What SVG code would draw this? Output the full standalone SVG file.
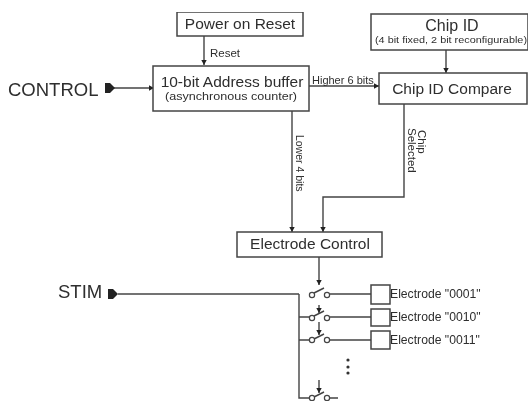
<svg xmlns="http://www.w3.org/2000/svg" width="529" height="401" viewBox="0 0 529 401">
<defs>
<marker id="arr" markerUnits="userSpaceOnUse" markerWidth="6" markerHeight="6" refX="5" refY="3" orient="auto"><path d="M0,0.3L5,3L0,5.7Z" fill="#222"/></marker>
<filter id="scan" x="0" y="0" width="100%" height="100%"><feGaussianBlur stdDeviation="0.45"/></filter>
</defs>
<style>
text{font-family:"Liberation Sans",Arial,sans-serif;fill:#2e2e2e}
.b{fill:#fff;stroke:#444;stroke-width:1.5}
.c{fill:none;stroke:#444;stroke-width:1.4}
.t{font-size:15.5px;text-anchor:middle}
.e{font-size:12.2px}
.o{fill:#fff;stroke:#444;stroke-width:1.2}
</style>
<rect width="529" height="401" fill="#fff"/>
<g filter="url(#scan)">
<g id="connectors">
<path class="c" d="M114,88H154" marker-end="url(#arr)"/>
<path class="c" d="M204,36V65" marker-end="url(#arr)"/>
<path class="c" d="M446,50V73" marker-end="url(#arr)"/>
<path class="c" d="M309,86H379" marker-end="url(#arr)"/>
<path class="c" d="M292,111V232" marker-end="url(#arr)"/>
<path class="c" d="M404,104V197H323V232" marker-end="url(#arr)"/>
<path class="c" d="M319,257V285" marker-end="url(#arr)"/>
<path class="c" d="M118,294H299"/>
<path class="c" d="M299,294V398H310"/>
<path class="c" d="M299,317H310M299,340H310"/>
<path class="c" d="M330,294H371M330,317H371M330,340H371"/>
<path class="c" d="M319,305V313" marker-end="url(#arr)"/>
<path class="c" d="M319,322V335" marker-end="url(#arr)"/>
<path class="c" d="M319,380V393" marker-end="url(#arr)"/>
<path class="c" d="M314,293L324,288M314,316L324,311M314,339L324,334M314,397L324,392M330,398H338"/>
</g>
<g id="power-on-reset"><rect class="b" x="177" y="12" width="126" height="24"/><text class="t" x="240" y="29">Power on Reset</text></g>
<text font-size="11.5" x="210" y="57">Reset</text>
<g id="chip-id"><rect class="b" x="371" y="14" width="157" height="36"/><text x="452" y="31" font-size="16" text-anchor="middle">Chip ID</text><text x="375" y="43" font-size="9.6" textLength="152" lengthAdjust="spacingAndGlyphs">(4 bit fixed, 2 bit reconfigurable)</text></g>
<g id="address-buffer"><rect class="b" x="153" y="66" width="156" height="45"/><text class="t" x="232" y="87">10-bit Address buffer</text><text x="165" y="100" font-size="11" textLength="132" lengthAdjust="spacingAndGlyphs">(asynchronous counter)</text></g>
<g id="chip-id-compare"><rect class="b" x="379" y="73" width="148" height="31"/><text class="t" x="452" y="94">Chip ID Compare</text></g>
<g id="electrode-control"><rect class="b" x="237" y="232" width="145" height="25"/><text class="t" x="310" y="249">Electrode Control</text></g>
<g id="control"><text x="8" y="96" font-size="18.5">CONTROL</text><path d="M105,83H110L115,88L110,93H105Z" fill="#222"/></g>
<g id="stim"><text x="58" y="298" font-size="18.5">STIM</text><path d="M108,289H113L118,294L113,299H108Z" fill="#222"/></g>
<text font-size="11" x="312" y="84">Higher 6 bits</text>
<text font-size="10.5" transform="translate(296,135) rotate(90)">Lower 4 bits</text>
<text font-size="11.5" transform="translate(418,130) rotate(90)">Chip</text>
<text font-size="11.5" transform="translate(408,128) rotate(90)">Selected</text>
<g id="switch-1"><circle class="o" cx="312" cy="295" r="2.6"/><circle class="o" cx="327" cy="295" r="2.6"/></g>
<g id="switch-2"><circle class="o" cx="312" cy="318" r="2.6"/><circle class="o" cx="327" cy="318" r="2.6"/></g>
<g id="switch-3"><circle class="o" cx="312" cy="340" r="2.6"/><circle class="o" cx="327" cy="340" r="2.6"/></g>
<g id="switch-4"><circle class="o" cx="312" cy="398" r="2.6"/><circle class="o" cx="327" cy="398" r="2.6"/></g>
<g id="electrode-1"><rect class="b" x="371" y="285" width="19" height="19"/><text class="e" x="390" y="298">Electrode "0001"</text></g>
<g id="electrode-2"><rect class="b" x="371" y="309" width="19" height="17"/><text class="e" x="390" y="321">Electrode "0010"</text></g>
<g id="electrode-3"><rect class="b" x="371" y="331" width="19" height="18"/><text class="e" x="390" y="344">Electrode "0011"</text></g>
<g id="dots" fill="#333"><circle cx="348" cy="360" r="1.6"/><circle cx="348" cy="367" r="1.6"/><circle cx="348" cy="373" r="1.6"/></g>
</g>
</svg>
